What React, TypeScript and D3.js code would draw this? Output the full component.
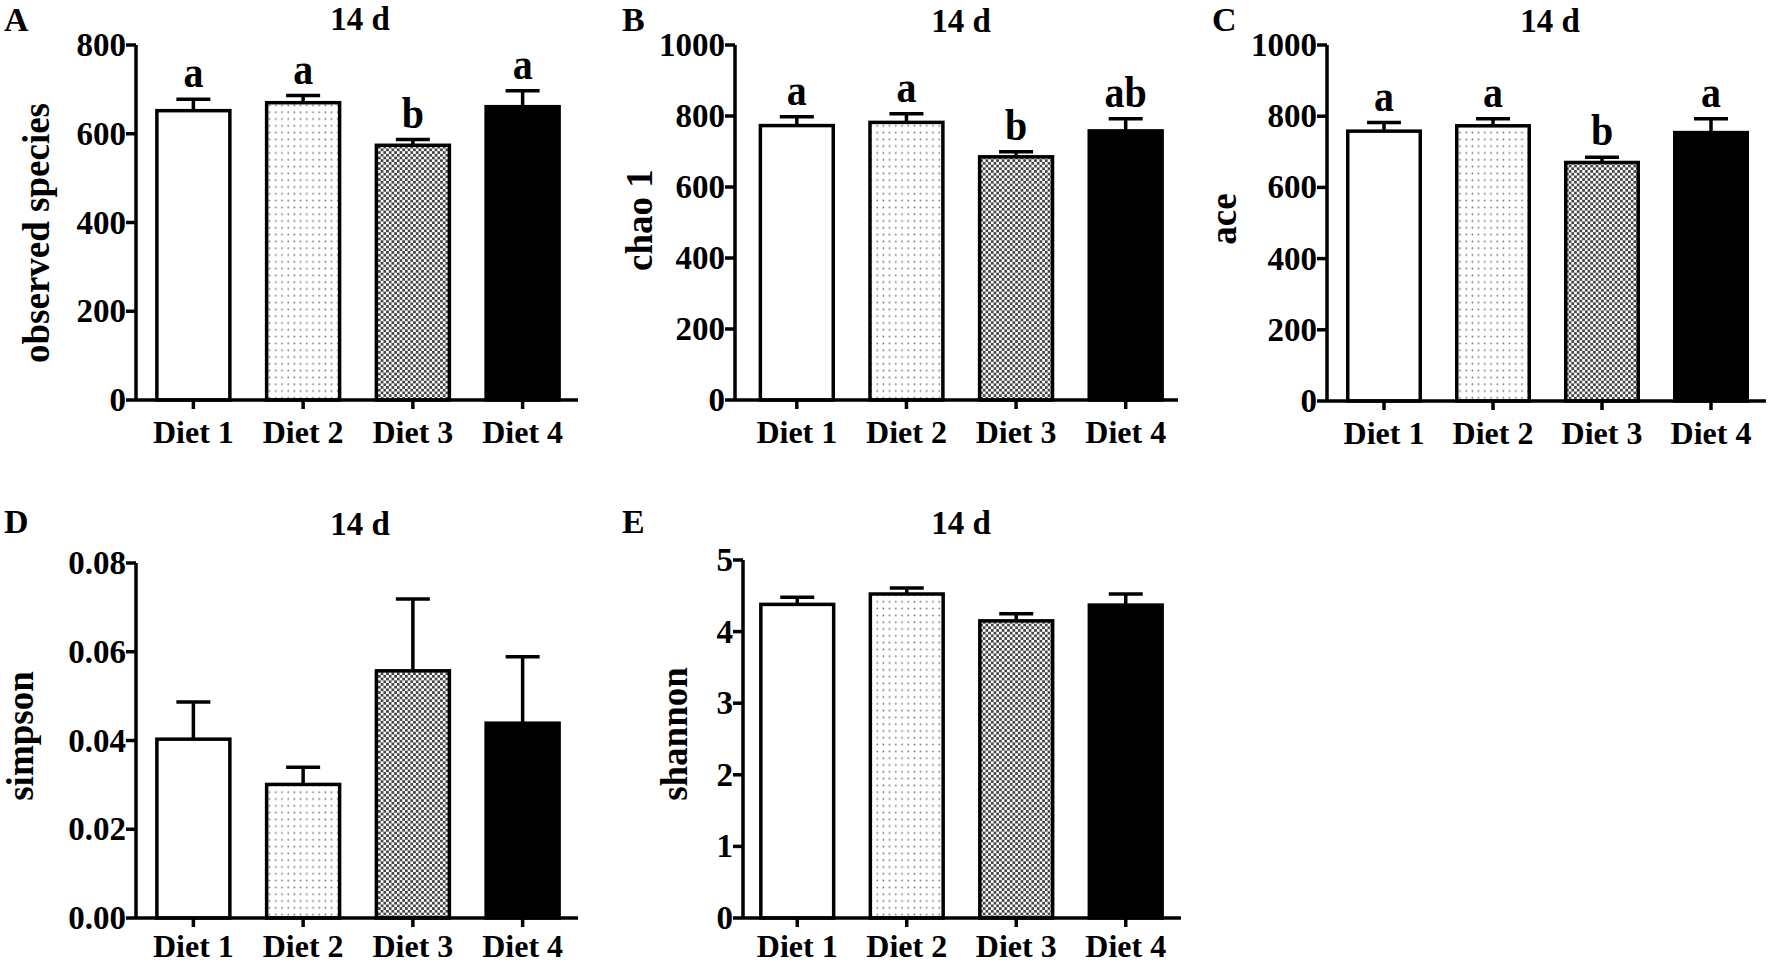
import React from "react";
import * as d3 from "d3";

const categories = ["Diet 1", "Diet 2", "Diet 3", "Diet 4"];

const observedMean = [652, 670, 574, 661];
const observedErr = [26, 16, 13, 36];
const observedLetters = ["a", "a", "b", "a"];
const observedTicks = [0, 200, 400, 600, 800];

const chaoMean = [773, 782, 685, 758];
const chaoErr = [25, 24, 14, 34];
const chaoLetters = ["a", "a", "b", "ab"];
const chaoTicks = [0, 200, 400, 600, 800, 1000];

const aceMean = [758, 773, 670, 754];
const aceErr = [24, 20, 15, 39];
const aceLetters = ["a", "a", "b", "a"];
const aceTicks = [0, 200, 400, 600, 800, 1000];

const simpsonMean = [0.0403, 0.0301, 0.0557, 0.0439];
const simpsonErr = [0.0084, 0.0039, 0.0162, 0.015];
const simpsonTicks = [0, 0.02, 0.04, 0.06, 0.08];

const shannonMean = [4.38, 4.525, 4.15, 4.37];
const shannonErr = [0.1, 0.085, 0.1, 0.155];
const shannonTicks = [0, 1, 2, 3, 4, 5];

const FONT = "'Liberation Serif', 'Times New Roman', serif";
const fills = ["#ffffff", "url(#dots)", "url(#checker)", "#000000"];
const SW = 3.5;

type PanelSpec = {
  letter: string;
  yLabel: string;
  mean: number[];
  err: number[];
  letters: string[] | null;
  ticks: number[];
  fmt: (v: number) => string;
  axisX: number;
  start: number;
  end: number;
  axisRight: number;
  top: number;
  bottom: number;
  titleX: number;
  titleY: number;
  letterX: number;
  letterY: number;
  yLabelX: number;
  yLabelY: number;
  catY: number;
};

const panels: PanelSpec[] = [
  {
    letter: "A", yLabel: "observed species", mean: observedMean, err: observedErr,
    letters: observedLetters, ticks: observedTicks, fmt: (v) => String(v),
    axisX: 136, start: 138.5, end: 577.5, axisRight: 578, top: 45, bottom: 400,
    titleX: 360, titleY: 30, letterX: 4, letterY: 31, yLabelX: 49, yLabelY: 233, catY: 443,
  },
  {
    letter: "B", yLabel: "chao 1", mean: chaoMean, err: chaoErr,
    letters: chaoLetters, ticks: chaoTicks, fmt: (v) => String(v),
    axisX: 735, start: 742, end: 1180.5, axisRight: 1178, top: 45, bottom: 400,
    titleX: 961, titleY: 32, letterX: 622, letterY: 31, yLabelX: 652, yLabelY: 220, catY: 443,
  },
  {
    letter: "C", yLabel: "ace", mean: aceMean, err: aceErr,
    letters: aceLetters, ticks: aceTicks, fmt: (v) => String(v),
    axisX: 1327, start: 1329.5, end: 1765.5, axisRight: 1766, top: 45, bottom: 401,
    titleX: 1550, titleY: 32, letterX: 1212, letterY: 31, yLabelX: 1236, yLabelY: 219, catY: 444,
  },
  {
    letter: "D", yLabel: "simpson", mean: simpsonMean, err: simpsonErr,
    letters: null, ticks: simpsonTicks, fmt: d3.format(".2f"),
    axisX: 136, start: 138.5, end: 577.5, axisRight: 578, top: 563, bottom: 918,
    titleX: 360, titleY: 535, letterX: 4, letterY: 533, yLabelX: 33, yLabelY: 736, catY: 957,
  },
  {
    letter: "E", yLabel: "shannon", mean: shannonMean, err: shannonErr,
    letters: null, ticks: shannonTicks, fmt: (v) => String(v),
    axisX: 743, start: 742.5, end: 1180.5, axisRight: 1181, top: 560, bottom: 918,
    titleX: 961, titleY: 534, letterX: 622, letterY: 533, yLabelX: 687, yLabelY: 734, catY: 957,
  },
];

function T(props: {
  x: number; y: number; size: number; anchor?: string; rotate?: boolean; sy?: number;
  children: React.ReactNode;
}) {
  const { x, y, size, anchor = "middle", rotate = false, sy = 1, children } = props;
  return (
    <text
      transform={`translate(${x},${y})${sy !== 1 ? ` scale(1,${sy})` : ""}${rotate ? " rotate(-90)" : ""}`}
      fontFamily={FONT}
      fontWeight="bold"
      fontSize={size}
      textAnchor={anchor}
      fill="#000"
    >
      {children}
    </text>
  );
}

function Panel({ p }: { p: PanelSpec }) {
  const dom = [p.ticks[0], p.ticks[p.ticks.length - 1]];
  const y = d3.scaleLinear().domain(dom).range([p.bottom, p.top]);
  const x = d3
    .scaleBand<string>()
    .domain(categories)
    .range([p.start, p.end])
    .paddingInner(0.335)
    .paddingOuter(0.1675);
  const bw = x.bandwidth();
  return (
    <g>
      <T x={p.letterX} y={p.letterY} size={34} anchor="start">{p.letter}</T>
      <T x={p.titleX} y={p.titleY} size={33}>14 d</T>
      <T x={p.yLabelX} y={p.yLabelY} size={37} rotate>{p.yLabel}</T>
      {categories.map((c, i) => {
        const x0 = x(c)!;
        const cx = x0 + bw / 2;
        const yTop = y(p.mean[i]);
        const yErr = y(p.mean[i] + p.err[i]);
        return (
          <g key={c}>
            <line x1={cx} x2={cx} y1={yTop} y2={yErr} stroke="#000" strokeWidth={SW} />
            <line x1={cx - 17} x2={cx + 17} y1={yErr} y2={yErr} stroke="#000" strokeWidth={SW} />
            <rect
              x={x0}
              y={yTop}
              width={bw}
              height={p.bottom - yTop}
              fill={fills[i]}
              stroke="#000"
              strokeWidth={SW}
            />
            {p.letters && (
              <T x={cx} y={yErr - 12} size={40} sy={1.1}>{p.letters[i]}</T>
            )}
            <line x1={cx} x2={cx} y1={p.bottom} y2={p.bottom + 9} stroke="#000" strokeWidth={SW} />
            <T x={cx} y={p.catY} size={32}>{c}</T>
          </g>
        );
      })}
      <line x1={p.axisX} x2={p.axisX} y1={p.top} y2={p.bottom} stroke="#000" strokeWidth={SW} />
      <line x1={p.axisX} x2={p.axisRight} y1={p.bottom} y2={p.bottom} stroke="#000" strokeWidth={SW} />
      {p.ticks.map((t) => (
        <g key={t}>
          <line x1={p.axisX - 10} x2={p.axisX} y1={y(t)} y2={y(t)} stroke="#000" strokeWidth={SW} />
          <T x={p.axisX - 10} y={y(t) + 11} size={33} anchor="end">{p.fmt(t)}</T>
        </g>
      ))}
    </g>
  );
}

export default function App() {
  return (
    <svg
      width={1772}
      height={964}
      style={{ position: "absolute", left: 0, top: 0, background: "#fff" }}
    >
      <defs>
        <pattern id="dots" patternUnits="userSpaceOnUse" width={6.2} height={6.8}>
          <rect width={6.2} height={6.8} fill="#fff" />
          <circle cx={3} cy={3.4} r={0.9} fill="#777" />
        </pattern>
        <pattern id="checker" patternUnits="userSpaceOnUse" width={5.4} height={5.4}>
          <rect width={5.4} height={5.4} fill="#fff" />
          <rect x={0} y={0} width={2.7} height={2.7} fill="#444" />
          <rect x={2.7} y={2.7} width={2.7} height={2.7} fill="#444" />
        </pattern>
      </defs>
      <rect width={1772} height={964} fill="#fff" />
      {panels.map((p) => (
        <Panel key={p.letter} p={p} />
      ))}
    </svg>
  );
}
